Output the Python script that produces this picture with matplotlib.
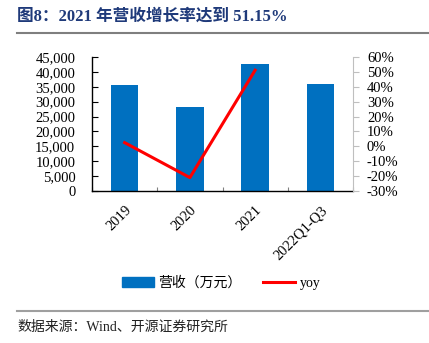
import numpy as np
import matplotlib.pyplot as plt
from matplotlib.lines import Line2D
from matplotlib.patches import Patch
from matplotlib.ticker import FuncFormatter, MultipleLocator

# data
categories = ["2019", "2020", "2021", "2022Q1-Q3"]
revenue = [35700, 28200, 42550, 35800]      # 营收（万元）
yoy = [2.5, -21.0, 51.15]                    # %, 2019-2021

FONT = ["Liberation Serif", "Noto Sans CJK SC"]
plt.rcParams["font.family"] = FONT

fig = plt.figure(figsize=(4.29, 3.43), dpi=100)
ax = fig.add_axes([92 / 429, 1 - 191 / 343, (353 - 92) / 429, (191 - 57) / 343])
ax2 = ax.twinx()

x = np.arange(len(categories))
ax.bar(x, revenue, width=0.42, color="#0070C0", zorder=2)
ax2.plot(x[:len(yoy)], yoy, color="#FF0000", lw=2.2, zorder=3)
ax2.set_zorder(ax.get_zorder() + 1)
ax2.patch.set_visible(False)

# left axis
ax.set_xlim(-0.5, len(categories) - 0.5)
ax.set_ylim(0, 45000)
ax.yaxis.set_major_locator(MultipleLocator(5000))
ax.yaxis.set_major_formatter(FuncFormatter(lambda v, p: f"{v:,.0f}"))
ax.tick_params(axis="y", direction="in", length=4, width=0.8, labelsize=10.5, pad=12)

# x axis: ticks at category boundaries, labels rotated
ax.set_xticks(x)
ax.set_xticklabels(categories, rotation=45, ha="right", rotation_mode="anchor", fontsize=10.5)
ax.tick_params(axis="x", which="major", length=0, pad=9)
ax.set_xticks(np.arange(-0.5, len(categories)), minor=True)
ax.tick_params(axis="x", which="minor", direction="in", length=3, width=0.8, color="#808080")

for s in ["top", "right"]:
    ax.spines[s].set_visible(False)
ax.spines["left"].set_linewidth(1.0)
ax.spines["bottom"].set_linewidth(1.0)

# right axis
ax2.set_ylim(-30, 60)
ax2.yaxis.set_major_locator(MultipleLocator(10))
ax2.yaxis.set_major_formatter(FuncFormatter(lambda v, p: f"{v:.0f}%"))
ax2.tick_params(axis="y", direction="out", length=4, width=0.8, color="#BFBFBF", labelsize=10.5, pad=6)
for s in ["top", "left", "bottom"]:
    ax2.spines[s].set_visible(False)
ax2.spines["right"].set_color("#BFBFBF")

# title and rules
fig.text(17 / 429, 1 - 17 / 343, "图8：2021 年营收增长率达到 51.15%", fontsize=12,
         fontweight="bold", color="#1F3A7A", va="center", ha="left")
fig.add_artist(Line2D([17 / 429, 1], [1 - 33 / 343] * 2, color="#7F7F7F", lw=1.5))
fig.add_artist(Line2D([17 / 429, 1], [1 - 311 / 343] * 2, color="#9F9F9F", lw=1.5))
fig.text(17 / 429, 1 - 327 / 343, "数据来源：Wind、开源证券研究所", fontsize=10,
         va="center", ha="left", color="#222222")

# legend
handles = [Patch(color="#0070C0"), Line2D([], [], color="#FF0000", lw=2.2)]
fig.legend(handles, ["营收（万元）", "yoy"], loc="center", ncol=2, frameon=False,
           bbox_to_anchor=(221 / 429, 1 - 283 / 343), fontsize=10, handlelength=2.3,
           handleheight=0.8, columnspacing=1.6, handletextpad=0.3)

fig.savefig("out.png", dpi=100)
